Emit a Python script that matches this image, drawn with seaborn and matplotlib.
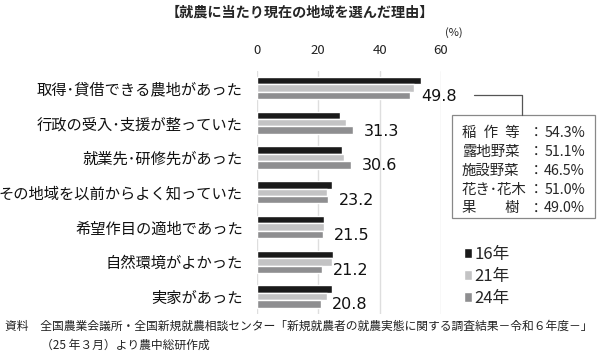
import pandas as pd
import seaborn as sns
import matplotlib.pyplot as plt
from matplotlib.patches import Rectangle
from matplotlib.lines import Line2D

# data
reasons = ['取得･貸借できる農地があった', '行政の受入･支援が整っていた', '就業先･研修先があった',
           'その地域を以前からよく知っていた', '希望作目の適地であった', '自然環境がよかった', '実家があった']
years = ['16年', '21年', '24年']
v16 = [53.4, 27.2, 27.8, 24.6, 21.8, 24.8, 24.4]
v21 = [51.1, 29.0, 28.4, 22.9, 22.0, 24.5, 22.9]
v24 = [49.8, 31.3, 30.6, 23.2, 21.5, 21.2, 20.8]
box_labels = ['稲\u2002作\u2002等', '露地野菜', '施設野菜', '花き･花木', '果\u3000\u3000樹']
box_values = ['54.3%', '51.1%', '46.5%', '51.0%', '49.0%']
colors = ['#1a1a1a', '#c3c3c4', '#8e8e90']

df = pd.DataFrame({
    'reason': reasons * 3,
    'year': [y for y in years for _ in reasons],
    'value': v16 + v21 + v24,
})

sns.set_style('white')
plt.rcParams['font.family'] = ['Noto Sans CJK JP', 'DejaVu Sans']

fig = plt.figure(figsize=(6, 3.58), dpi=100)
ax = fig.add_axes([0.428, 0.123, 0.307, 0.68])

sns.barplot(data=df, y='reason', x='value', hue='year', palette=colors,
            width=0.64, orient='h', ax=ax, saturation=1)

ax.set_xlim(0, 60)
ax.set_xticks([0, 20, 40, 60])
ax.xaxis.tick_top()
ax.tick_params(axis='x', length=0, labelsize=9.5, pad=10, colors='#222222')
ax.tick_params(axis='y', length=0, labelsize=11, pad=10, colors='#111111')
ax.set_xlabel('')
ax.set_ylabel('')
ax.grid(axis='x', color='#dedede', linewidth=1)
ax.set_axisbelow(True)
for s in ax.spines.values():
    s.set_visible(False)

# value labels next to the 24年 bar
for i, v in enumerate(v24):
    ax.annotate(f'{v:.1f}', (v, i + 0.24), xytext=(8, 0), textcoords='offset points',
                va='center', ha='left', fontsize=11.5, family='DejaVu Sans', color='#111111')

ax.legend(loc='upper left', bbox_to_anchor=(0.748, 0.355), bbox_transform=fig.transFigure,
          frameon=False, fontsize=12, handlelength=0.5, handleheight=0.5,
          handletextpad=0.15, labelspacing=0.3)

fig.text(0.5, 0.965, '【就農に当たり現在の地域を選んだ理由】', ha='center', va='center',
         fontsize=10.2, fontweight='bold')
fig.text(0.757, 0.91, '(%)', ha='center', va='center', fontsize=8, color='#222222')

# breakdown box for the first item
fig.add_artist(Line2D([0.79, 0.87, 0.87], [0.735, 0.735, 0.679],
                      transform=fig.transFigure, color='#555555', lw=0.9))
fig.add_artist(Rectangle((0.753, 0.391), 0.239, 0.288, transform=fig.transFigure,
                         facecolor='white', edgecolor='#888888', lw=0.9))
for k, (lab, val) in enumerate(zip(box_labels, box_values)):
    yy = 0.628 - k * 0.0525
    fig.text(0.770, yy, lab, ha='left', va='center', fontsize=10.4)
    fig.text(0.893, yy, '：', ha='center', va='center', fontsize=10.4)
    fig.text(0.975, yy, val, ha='right', va='center', fontsize=10.3)

fig.text(0.008, 0.088, '資料　全国農業会議所・全国新規就農相談センター「新規就農者の就農実態に関する調査結果－令和６年度－」',
         ha='left', va='center', fontsize=8.5, color='#222222')
fig.text(0.068, 0.036, '（25 年３月）より農中総研作成', ha='left', va='center', fontsize=8.5, color='#222222')

fig.savefig('out.png', dpi=100)
